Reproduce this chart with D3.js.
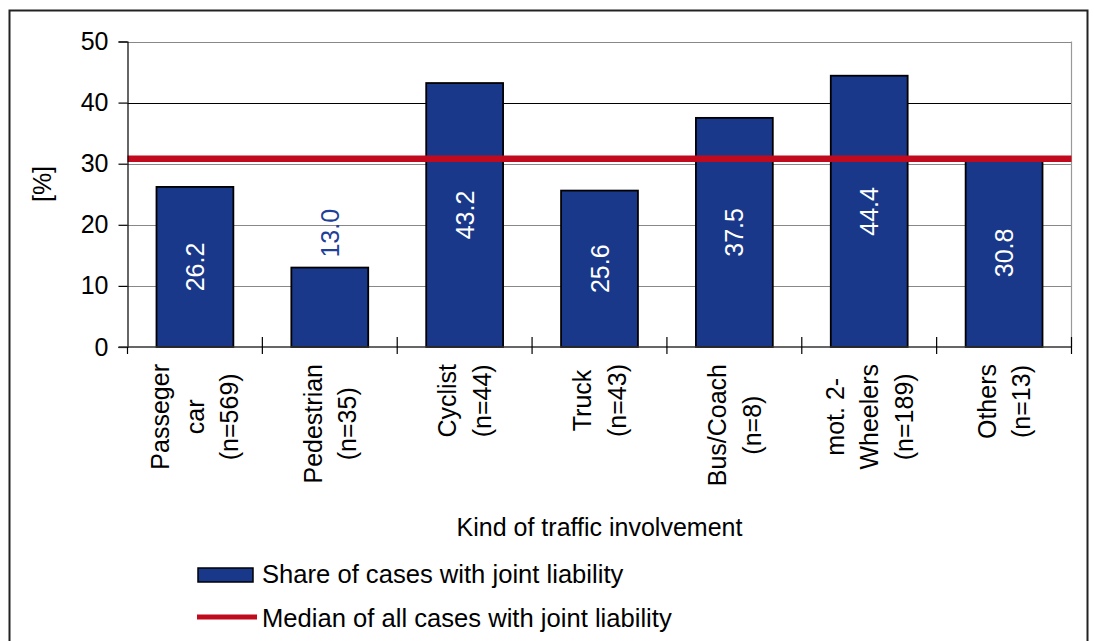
<!DOCTYPE html>
<html>
<head>
<meta charset="utf-8">
<script src="https://cdn.jsdelivr.net/npm/d3@7"></script>
<style>
  html, body { margin: 0; padding: 0; background: #fff; }
  svg { display: block; font-family: "Liberation Sans", Arial, sans-serif; }
</style>
</head>
<body>
<svg id="chart" width="1094" height="641"></svg>
<script>
// ---- data ----
const categories = [
  ["Passeger", "car", "(n=569)"],
  ["Pedestrian", "(n=35)"],
  ["Cyclist", "(n=44)"],
  ["Truck", "(n=43)"],
  ["Bus/Coach", "(n=8)"],
  ["mot. 2-", "Wheelers", "(n=189)"],
  ["Others", "(n=13)"]
];
const shareValues = [26.2, 13.0, 43.2, 25.6, 37.5, 44.4, 30.8];
const medianValue = 30.8;
const yTicks = [0, 10, 20, 30, 40, 50];
const xTitle = "Kind of traffic involvement";
const yTitle = "[%]";
const legendLabels = ["Share of cases with joint liability", "Median of all cases with joint liability"];

(function () {
// ---- layout ----
const svg = d3.select("#chart");
const pLeft = 127.5, pRight = 1071.5, pTop = 41.5, pBottom = 347;
const barColor = "#19388A";
const redColor = "#C20A1F";
const fs = 25;
const legendFs = 25.6;

// outer frame
svg.append("rect").attr("x", 9.5).attr("y", 10.5).attr("width", 1078).attr("height", 660)
  .attr("fill", "none").attr("stroke", "#222").attr("stroke-width", 2);

const idx = categories.map((d, i) => i);
const x = d3.scaleBand().domain(idx).range([pLeft, pRight]).paddingInner(0.43).paddingOuter(0.215);
const xb = d3.scaleBand().domain(idx).range([pLeft, pRight]).padding(0);
const y = d3.scaleLinear().domain([0, 50]).range([pBottom, pTop]);

// gridlines
svg.append("g").selectAll("line").data(yTicks.filter(t => t > 0)).join("line")
  .attr("x1", pLeft).attr("x2", pRight)
  .attr("y1", d => Math.round(y(d)) + 0.5).attr("y2", d => Math.round(y(d)) + 0.5)
  .attr("stroke", d => d === 40 ? "#000" : "#888").attr("stroke-width", 1.2);

// right plot border
svg.append("line").attr("x1", pRight).attr("x2", pRight).attr("y1", pTop).attr("y2", pBottom)
  .attr("stroke", "#999").attr("stroke-width", 1.2);

// bars
svg.append("g").selectAll("rect").data(shareValues).join("rect")
  .attr("x", (d, i) => x(i)).attr("width", x.bandwidth())
  .attr("y", d => y(d)).attr("height", d => y(0) - y(d))
  .attr("fill", barColor).attr("stroke", "#000").attr("stroke-width", 1.8);

// median line
svg.append("line").attr("x1", pLeft).attr("x2", pRight)
  .attr("y1", y(medianValue)).attr("y2", y(medianValue))
  .attr("stroke", redColor).attr("stroke-width", 6.5);

// y axis
const yAxis = d3.axisLeft(y).tickValues(yTicks).tickSize(9).tickPadding(10);
const gy = svg.append("g").attr("transform", `translate(${pLeft},0)`).call(yAxis);
gy.select(".domain").attr("stroke", "#000").attr("stroke-width", 1.2);
gy.selectAll(".tick line").attr("stroke", "#000").attr("stroke-width", 1.2);
gy.selectAll(".tick text").attr("font-size", fs).attr("fill", "#000")
  .attr("font-family", "Liberation Sans, Arial, sans-serif");

// x axis baseline and ticks at band boundaries
svg.append("line").attr("x1", pLeft - 9).attr("x2", pRight).attr("y1", pBottom).attr("y2", pBottom)
  .attr("stroke", "#333").attr("stroke-width", 1.4);
const boundaries = idx.map(i => xb(i)).concat([pRight]);
svg.append("g").selectAll("line").data(boundaries).join("line")
  .attr("x1", d => d).attr("x2", d => d)
  .attr("y1", (d, i) => i === 0 ? pBottom : pBottom - 10).attr("y2", pBottom + 7)
  .attr("stroke", "#000").attr("stroke-width", 1.2);

// value labels
const vl = svg.append("g");
shareValues.forEach((v, i) => {
  const cx = xb(i) + xb.bandwidth() / 2;
  const inside = v >= 15;
  const t = vl.append("text")
    .attr("font-size", fs)
    .attr("dominant-baseline", "central")
    .text(v.toFixed(1));
  if (inside) {
    t.attr("fill", "#fff").attr("text-anchor", "middle")
      .attr("transform", `translate(${cx},${y(v / 2)}) rotate(-90)`);
  } else {
    t.attr("fill", "#1F3F98").attr("text-anchor", "start")
      .attr("transform", `translate(${cx},${y(v) - 10}) rotate(-90)`);
  }
});

// category labels (rotated, multi-line, top aligned, lines centred)
const cl = svg.append("g");
const lineGap = 34.5, labelTop = 364;
categories.forEach((lines, i) => {
  const cx = xb(i) + xb.bandwidth() / 2;
  const n = lines.length;
  const texts = lines.map((s, j) => cl.append("text")
    .attr("font-size", fs).attr("fill", "#000").attr("text-anchor", "middle")
    .attr("dominant-baseline", "central").text(s));
  const maxLen = d3.max(texts, t => t.node().getComputedTextLength());
  texts.forEach((t, j) => {
    const ox = cx + (j - (n - 1) / 2) * lineGap;
    t.attr("transform", `translate(${ox},${labelTop + maxLen / 2}) rotate(-90)`);
  });
});

// axis titles
svg.append("text").attr("x", (pLeft + pRight) / 2).attr("y", 527)
  .attr("text-anchor", "middle").attr("dominant-baseline", "central")
  .attr("font-size", fs).attr("fill", "#000").text(xTitle);
svg.append("text").attr("transform", "translate(42,184) rotate(-90)")
  .attr("text-anchor", "middle").attr("dominant-baseline", "central")
  .attr("font-size", fs).attr("fill", "#000").text(yTitle);

// legend
const lg = svg.append("g");
lg.append("rect").attr("x", 198).attr("y", 568).attr("width", 55).attr("height", 14)
  .attr("fill", barColor).attr("stroke", "#000").attr("stroke-width", 1.5);
lg.append("text").attr("x", 262).attr("y", 574).attr("dominant-baseline", "central")
  .attr("font-size", legendFs).attr("fill", "#000").text(legendLabels[0]);
lg.append("line").attr("x1", 197).attr("x2", 257).attr("y1", 617).attr("y2", 617)
  .attr("stroke", redColor).attr("stroke-width", 5);
lg.append("text").attr("x", 262).attr("y", 618).attr("dominant-baseline", "central")
  .attr("font-size", legendFs).attr("fill", "#000").text(legendLabels[1]);
})();
</script>
</body>
</html>
